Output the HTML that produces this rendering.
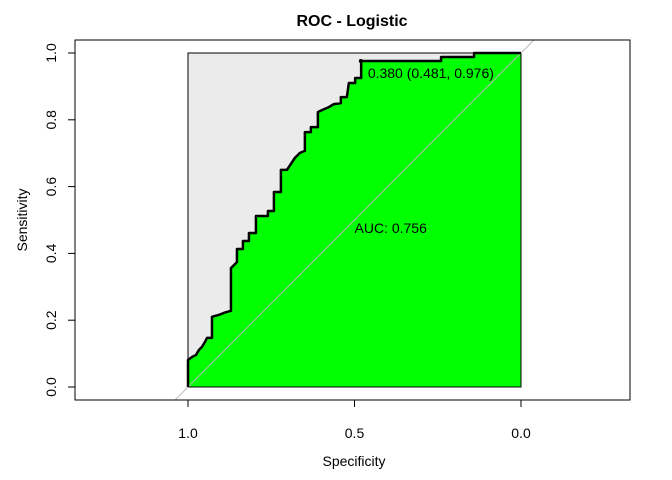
<!DOCTYPE html>
<html><head><meta charset="utf-8">
<style>
html,body{margin:0;padding:0;background:#fff;width:672px;height:480px;overflow:hidden;}
svg{display:block;font-family:"Liberation Sans",Arial,sans-serif;}
</style></head>
<body>
<svg id="chart" width="672" height="480" viewBox="0 0 672 480">
<rect width="672" height="480" fill="#fff"/>
<text x="352" y="26" text-anchor="middle" font-size="16" font-weight="bold">ROC - Logistic</text>
<g id="plot"></g>
</svg>
<script>
const specValues=[1.000,1.000,0.988,0.976,0.967,0.958,0.949,0.943,0.928,0.928,0.907,0.892,0.871,0.871,0.853,0.853,0.835,0.835,0.817,0.817,0.796,0.796,0.760,0.760,0.742,0.742,0.721,0.721,0.703,0.679,0.664,0.649,0.649,0.631,0.631,0.610,0.610,0.598,0.577,0.562,0.541,0.541,0.523,0.517,0.498,0.498,0.480,0.480,0.240,0.240,0.141,0.141,0.000];
const sensValues=[0.000,0.081,0.090,0.096,0.111,0.120,0.135,0.147,0.147,0.210,0.216,0.222,0.228,0.356,0.374,0.413,0.413,0.437,0.437,0.461,0.461,0.512,0.512,0.527,0.527,0.584,0.584,0.650,0.650,0.686,0.701,0.707,0.763,0.763,0.778,0.778,0.823,0.829,0.838,0.847,0.850,0.868,0.868,0.910,0.910,0.925,0.925,0.976,0.976,0.988,0.988,1.000,1.000];
const xTicks=[1.0,0.5,0.0];
const xTickLabels=["1.0","0.5","0.0"];
const yTicks=[0,0.2,0.4,0.6,0.8,1.0];
const yTickLabels=["0.0","0.2","0.4","0.6","0.8","1.0"];
const aucLabel="AUC: 0.756";
const bestThreshold=[0.380,0.481,0.976];

const NS="http://www.w3.org/2000/svg";
const g=document.getElementById('plot');
const X=s=>521-(s)*333;
const Y=v=>387-v*334;
const Yinv=p=>(387-p)/334;
function mk(t,a,p){const e=document.createElementNS(NS,t);for(const k in a)e.setAttribute(k,a[k]);(p||g).appendChild(e);return e;}

let e;
e=mk('rect',{x:X(1),y:Y(1),width:X(0)-X(1),height:Y(0)-Y(1),fill:'#ebebeb',stroke:'#000','stroke-width':1});



let pts=specValues.map((s,i)=>X(s)+','+Y(sensValues[i]));
let poly=pts.join(' ')+' '+X(0)+','+Y(0);
e=mk('polygon',{points:poly,fill:'#00ff00',stroke:'none'});


e=mk('rect',{x:X(1),y:Y(1),width:X(0)-X(1),height:Y(0)-Y(1),fill:'none',stroke:'#000','stroke-width':1});

const sBot=Yinv(400), sTop=Yinv(40);
e=mk('line',{x1:X(1-sBot),y1:400,x2:X(1-sTop),y2:40,stroke:'#bbb','stroke-width':1});



e=mk('polyline',{points:pts.join(' '),fill:'none',stroke:'#000','stroke-width':2.5,'stroke-linejoin':'round'});



e=mk('circle',{cx:X(bestThreshold[1]),cy:Y(bestThreshold[2]),r:2,fill:'#000'});


e=mk('text',{x:X(bestThreshold[1])+7,y:Y(bestThreshold[2])+17,'font-size':14,fill:'#000'});
e.textContent=bestThreshold[0].toFixed(3)+' ('+bestThreshold[1].toFixed(3)+', '+bestThreshold[2].toFixed(3)+')';



e=mk('text',{x:X(0.5),y:Y(0.5)+13,'font-size':14,fill:'#000'});
e.textContent=aucLabel;



e=mk('rect',{x:75,y:40,width:555,height:360,fill:'none',stroke:'#000','stroke-width':1});



e=mk('line',{x1:X(1),y1:400,x2:X(0),y2:400,stroke:'#000'});


xTicks.forEach((t,i)=>{
 mk('line',{x1:X(t),y1:400,x2:X(t),y2:407,stroke:'#000'});
 const l=mk('text',{x:X(t),y:438,'text-anchor':'middle','font-size':14});
 l.textContent=xTickLabels[i];
 
 
});
e=mk('text',{x:354,y:466,'text-anchor':'middle','font-size':14});
e.textContent='Specificity';



e=mk('line',{x1:75,y1:Y(0),x2:75,y2:Y(1),stroke:'#000'});


yTicks.forEach((t,i)=>{
 mk('line',{x1:68,y1:Y(t),x2:75,y2:Y(t),stroke:'#000'});
 const l=mk('text',{x:0,y:0,'text-anchor':'middle','font-size':14,transform:'translate(56,'+Y(t)+') rotate(-90)'});
 l.textContent=yTickLabels[i];
 
 
});
e=mk('text',{x:0,y:0,'text-anchor':'middle','font-size':14,transform:'translate(27,220) rotate(-90)'});
e.textContent='Sensitivity';


</script>
</body></html>
